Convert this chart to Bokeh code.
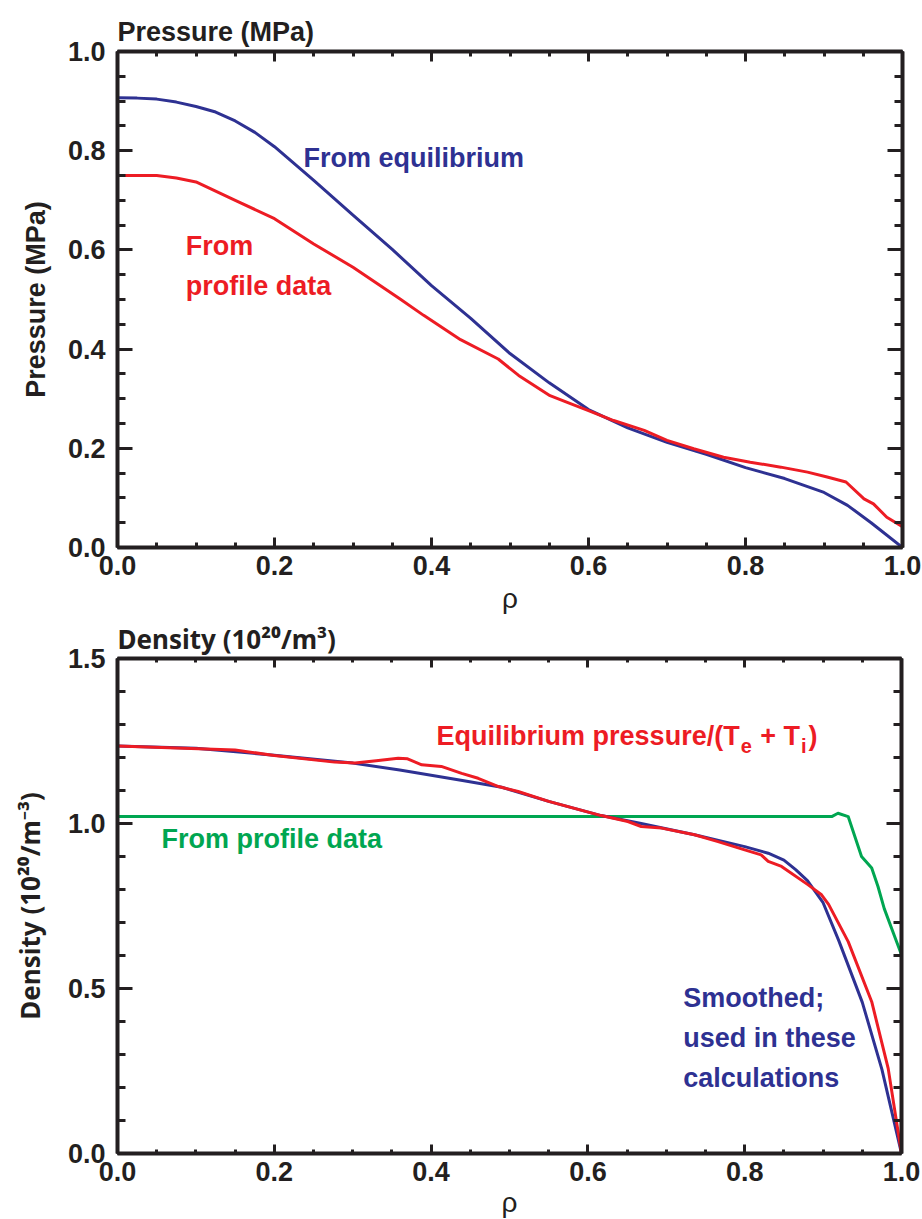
from bokeh.plotting import figure
from bokeh.models import (Label, LinearAxis, Range1d, SingleIntervalTicker,
                          PrintfTickFormatter, CustomJSTickFormatter, Title)
from bokeh.layouts import column
from bokeh.embed import file_html
from bokeh.resources import INLINE

# ---- Pressure profiles (MPa) versus normalised radius rho ----
rho_p_equil = [0.0, 0.025, 0.05, 0.075, 0.10, 0.125, 0.15, 0.175, 0.20, 0.25,
               0.30, 0.35, 0.40, 0.45, 0.50, 0.55, 0.60, 0.65, 0.70, 0.75,
               0.80, 0.85, 0.90, 0.93, 0.96, 1.0]
p_equil = [0.907, 0.906, 0.904, 0.898, 0.889, 0.878, 0.860, 0.837, 0.808, 0.740,
           0.670, 0.601, 0.528, 0.462, 0.391, 0.332, 0.278, 0.241, 0.212, 0.188,
           0.161, 0.139, 0.111, 0.085, 0.050, 0.0]

rho_p_prof = [0.0, 0.05, 0.075, 0.10, 0.15, 0.20, 0.25, 0.30, 0.36, 0.39, 0.437,
              0.485, 0.511, 0.551, 0.577, 0.60, 0.632, 0.671, 0.70, 0.734,
              0.772, 0.806, 0.845, 0.879, 0.904, 0.928, 0.951, 0.963, 0.98, 1.0]
p_prof = [0.750, 0.750, 0.745, 0.737, 0.700, 0.663, 0.612, 0.565, 0.501, 0.468, 0.419,
          0.380, 0.347, 0.306, 0.290, 0.276, 0.256, 0.236, 0.216, 0.199,
          0.182, 0.172, 0.162, 0.152, 0.142, 0.132, 0.098, 0.088, 0.061, 0.042]

# ---- Density profiles (10^20 m^-3) ----
rho_n_equil = [0.0, 0.15, 0.20, 0.277, 0.303, 0.33, 0.358, 0.37, 0.388, 0.413,
               0.439, 0.46, 0.486, 0.511, 0.55, 0.617, 0.651, 0.668, 0.694,
               0.736, 0.766, 0.80, 0.821, 0.83, 0.847, 0.881, 0.898, 0.907,
               0.932, 0.962, 0.983, 1.0]
n_equil = [1.235, 1.223, 1.206, 1.186, 1.183, 1.190, 1.198, 1.196, 1.178, 1.173,
           1.152, 1.137, 1.112, 1.097, 1.067, 1.024, 1.006, 0.991, 0.986,
           0.966, 0.945, 0.920, 0.905, 0.885, 0.870, 0.814, 0.784, 0.755,
           0.642, 0.460, 0.258, 0.0]

rho_n_smooth = [0.0, 0.10, 0.20, 0.30, 0.36, 0.44, 0.49, 0.55, 0.617, 0.668,
                0.736, 0.80, 0.83, 0.85, 0.865, 0.88, 0.90, 0.92, 0.95,
                0.975, 1.0]
n_smooth = [1.235, 1.228, 1.207, 1.183, 1.162, 1.130, 1.110, 1.067, 1.024, 1.000,
            0.966, 0.930, 0.910, 0.889, 0.860, 0.827, 0.760, 0.645, 0.458,
            0.255, 0.0]

rho_n_prof = [0.0, 0.911, 0.919, 0.932, 0.949, 0.962, 0.97, 0.978, 1.0]
n_prof = [1.021, 1.021, 1.031, 1.021, 0.900, 0.865, 0.809, 0.742, 0.602]

BLUE = "#2e3192"
RED = "#ed1c24"
GREEN = "#00a651"
INK = "#231f20"
FONT = "Liberation Sans"
SUPFONT = "Noto Sans"   # has a full set of superscript digits and minus
BIG = 27      # main text size (px)
SUP = 20      # subscript size (px)

# Arial-Bold-like advance widths (per 1000 em) used to butt label pieces together
_W = {" ": 278, "(": 333, ")": 333, "+": 584, "/": 278, ";": 333,
      "E": 667, "T": 611, "a": 556, "b": 611, "e": 556, "i": 278,
      "l": 278, "m": 889, "p": 611, "q": 611, "r": 389, "s": 556, "u": 611}


def text_width(s, size):
    return sum(_W.get(c, 556) for c in s) * size / 1000.0


def make_label(x, y, s, color=INK, size=BIG, dx=0, dy=0):
    # alphabetic anchoring sits a little low, lift it by about a third of an em
    return Label(x=x, y=y, x_offset=dx, y_offset=dy + 0.34 * size, text=s,
                 text_color=color, text_font=FONT,
                 text_font_size=f"{size}px", text_font_style="bold",
                 text_align="left", text_baseline="alphabetic")


def add_axes(p, y_interval, y_minor, x_in, y_in, y_label, y_label_font,
             y_label_size, y_label_standoff, rho_standoff):
    def ax(side, interval, minor, ticks, labelled):
        a = LinearAxis(ticker=SingleIntervalTicker(interval=interval, num_minor_ticks=minor),
                       axis_line_width=4, axis_line_color=INK,
                       major_tick_line_width=3, minor_tick_line_width=3,
                       major_tick_line_color=INK, minor_tick_line_color=INK,
                       major_tick_in=ticks[0], major_tick_out=0,
                       minor_tick_in=ticks[1], minor_tick_out=0)
        if labelled:
            a.formatter = PrintfTickFormatter(format="%.1f")
            a.major_label_text_font = FONT
            a.major_label_text_font_size = f"{BIG}px"
            a.major_label_text_font_style = "bold"
            a.major_label_text_color = INK
            a.axis_label_text_color = INK
        else:
            a.formatter = CustomJSTickFormatter(code="return ''")
            a.major_label_text_font_size = "1px"
            a.major_label_standoff = 0
        p.add_layout(a, side)
        return a

    xb = ax("below", 0.2, 4, x_in, True)
    xb.major_label_standoff = 8
    xb.axis_label = "ρ"
    xb.axis_label_text_font = FONT
    xb.axis_label_text_font_size = "28px"
    xb.axis_label_text_font_style = "normal"
    xb.axis_label_standoff = rho_standoff
    ax("above", 0.2, 4, x_in, False)
    yl = ax("left", y_interval, y_minor, y_in, True)
    yl.major_label_standoff = 12
    yl.axis_label = y_label
    yl.axis_label_text_font = y_label_font
    yl.axis_label_text_font_size = f"{y_label_size}px"
    yl.axis_label_text_font_style = "bold"
    yl.axis_label_standoff = y_label_standoff
    ax("right", y_interval, y_minor, y_in, False)


def panel(frame_w, frame_h, left, right, top, bottom, y_max, title, title_font,
          title_size, title_standoff):
    p = figure(frame_width=frame_w, frame_height=frame_h,
               min_border_left=left, min_border_right=right,
               min_border_top=top, min_border_bottom=bottom,
               x_range=Range1d(0, 1), y_range=Range1d(0, y_max),
               x_axis_type=None, y_axis_type=None,
               toolbar_location=None, output_backend="svg")
    p.title = Title(text=title, align="left", text_font=title_font,
                    text_font_size=f"{title_size}px", text_font_style="bold",
                    text_color=INK, standoff=title_standoff)
    p.outline_line_color = None
    return p


# ---------------- Pressure panel ----------------
p1 = panel(785, 496, 117, 20, 51, 69, 1.0, "Pressure (MPa)", FONT, BIG, 9)
add_axes(p1, 0.2, 4, (10, 5), (15, 8), "Pressure (MPa)", FONT, BIG, 14, 5)
p1.line(rho_p_equil, p_equil, line_width=3, color=BLUE, line_join="round")
p1.line(rho_p_prof, p_prof, line_width=3, color=RED, line_join="round")
p1.add_layout(make_label(0.237, 0.767, "From equilibrium", color=BLUE))
p1.add_layout(make_label(0.087, 0.589, "From", color=RED))
p1.add_layout(make_label(0.087, 0.508, "profile data", color=RED))

# ---------------- Density panel ----------------
p2 = panel(784, 495, 116, 22, 41, 67, 1.5, "Density (10²⁰/m³)", SUPFONT, 26, 4)
add_axes(p2, 0.5, 5, (9, 4), (15, 8), "Density (10²⁰/m⁻³)", SUPFONT, 26, 17, 3)
p2.line(rho_n_prof, n_prof, line_width=3, color=GREEN, line_join="round")
p2.line(rho_n_smooth, n_smooth, line_width=3, color=BLUE, line_join="round")
p2.line(rho_n_equil, n_equil, line_width=3, color=RED, line_join="round")

# Equilibrium pressure/(T_e + T_i), pieced together with lowered subscripts
space = text_width(" ", BIG)
pieces = [("Equilibrium pressure/(T", BIG, 0, 0), ("e", SUP, 8, 0),
          ("+ T", BIG, 0, space), ("i", SUP, 8, 0), (")", BIG, 0, 1)]
x0 = 0
for s, sz, drop, gap in pieces:
    x0 += gap
    p2.add_layout(make_label(0.407, 1.238, s, color=RED, size=sz, dx=x0, dy=-drop))
    x0 += text_width(s, sz) + 1

p2.add_layout(make_label(0.056, 0.924, "From profile data", color=GREEN))
for yy, s in [(0.442, "Smoothed;"), (0.321, "used in these"), (0.200, "calculations")]:
    p2.add_layout(make_label(0.7215, yy, s, color=BLUE))

layout = column(p1, p2, spacing=0)
open("out.html", "w").write(file_html(layout, INLINE))
